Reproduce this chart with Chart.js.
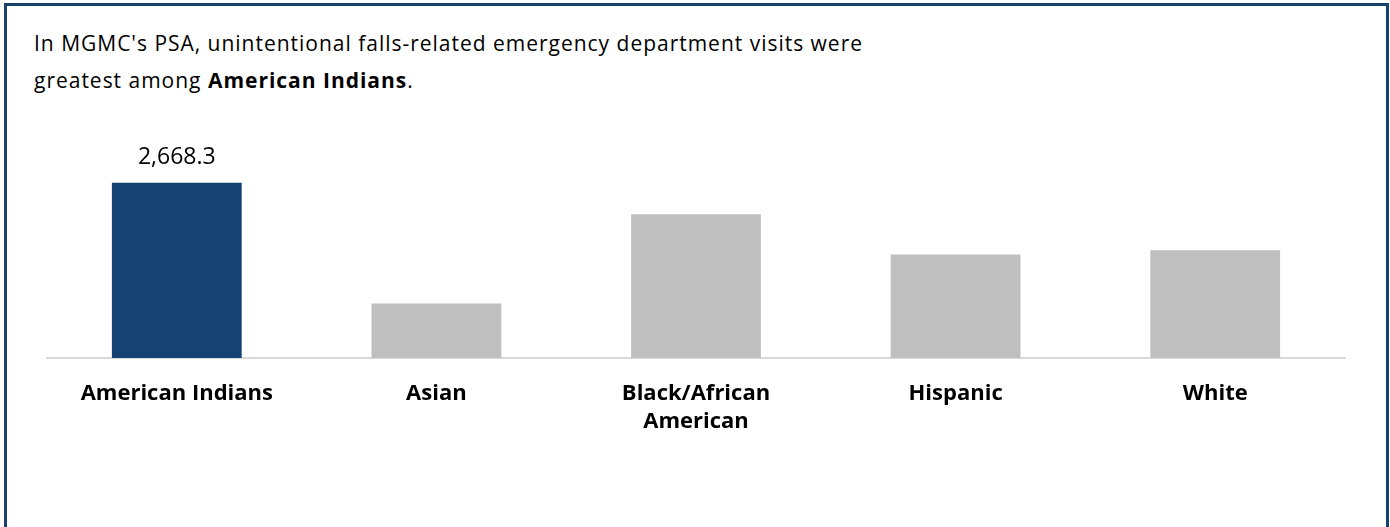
<!DOCTYPE html>
<html>
<head>
<meta charset="utf-8">
<script src="https://cdn.jsdelivr.net/npm/chart.js@4.4.0/dist/chart.umd.min.js"></script>
<style>
  html, body { margin: 0; padding: 0; background: #ffffff; }
  #wrap { position: relative; width: 1390px; height: 527px; overflow: hidden; background: #fff; }
  #frame { position: absolute; left: 4px; top: 3px; width: 1385px; height: 540px; border: 3px solid #17406D; border-bottom: none; box-sizing: border-box; }
  #title { position: absolute; left: 34px; top: 25px; font-family: "Open Sans", Lato, sans-serif; font-size: 21px; line-height: 37px; color: #000; white-space: nowrap; }
  #title b { font-weight: 700; }
  canvas { position: absolute; left: 0; top: 0; }
</style>
</head>
<body>
<div id="wrap">
  <div id="frame"></div>
  <div id="title"><span id="l1">In MGMC's PSA, unintentional falls-related emergency department visits were</span><br><span id="l2">greatest among <b>American Indians</b>.</span></div>
  <canvas id="c" width="1390" height="527"></canvas>
</div>
<script>
const categories = ["American Indians", "Asian", ["Black/African", "American"], "Hispanic", "White"];
const values = [2668.3, 831, 2188, 1578, 1639];
const barColors = ["#154273", "#BFBFBF", "#BFBFBF", "#BFBFBF", "#BFBFBF"];
const valueLabels = ["2,668.3", "", "", "", ""];

// fit title line width to reference (~829px)
(function () {
  const l1 = document.getElementById('l1');
  const w = l1.getBoundingClientRect().width;
  const n = l1.textContent.length;
  const ls = (829 - w) / n;
  document.getElementById('title').style.letterSpacing = ls.toFixed(3) + 'px';
})();

const labelPlugin = {
  id: 'valueLabels',
  afterDatasetsDraw(chart) {
    const ctx = chart.ctx;
    const meta = chart.getDatasetMeta(0);
    ctx.save();
    ctx.font = '23px "Open Sans", Lato, sans-serif';
    ctx.fillStyle = '#000';
    ctx.textAlign = 'center';
    ctx.textBaseline = 'alphabetic';
    meta.data.forEach((bar, i) => {
      if (valueLabels[i]) ctx.fillText(valueLabels[i], bar.x, bar.y - 19);
    });
    ctx.restore();
  }
};

new Chart(document.getElementById('c'), {
  type: 'bar',
  data: {
    labels: categories,
    datasets: [{
      data: values,
      backgroundColor: barColors,
      categoryPercentage: 1.0,
      barPercentage: 0.5
    }]
  },
  options: {
    responsive: false,
    animation: false,
    layout: { padding: { left: 47, right: 45, top: 161, bottom: 0 } },
    plugins: { legend: { display: false }, tooltip: { enabled: false }, title: { display: false } },
    scales: {
      x: {
        grid: { display: false, drawTicks: false },
        border: { display: true, color: '#D9D9D9', width: 2 },
        ticks: {
          color: '#000',
          padding: 22,
          maxRotation: 0,
          autoSkip: false,
          font: { family: '"Open Sans", Lato, sans-serif', size: 22, weight: 'bold', lineHeight: 1.27 }
        },
        afterFit(scale) { scale.height = 169; }
      },
      y: {
        display: false,
        min: 0,
        max: 3000
      }
    }
  },
  plugins: [labelPlugin]
});
</script>
</body>
</html>
